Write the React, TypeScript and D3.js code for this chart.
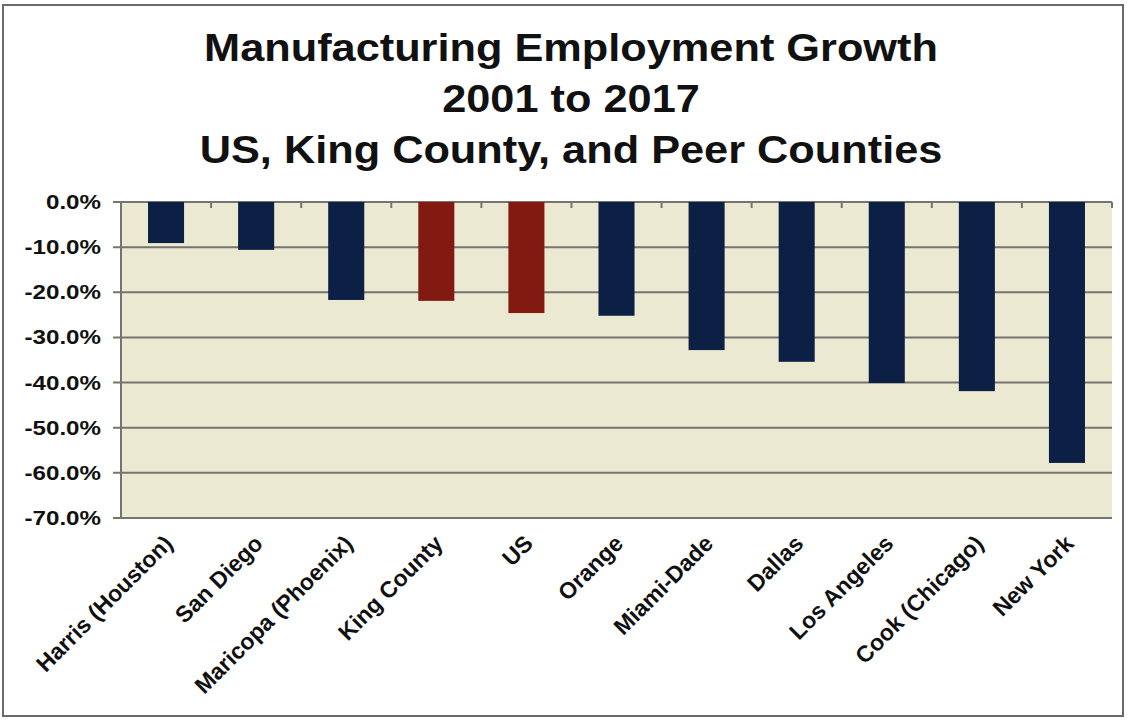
import React from "react";
import * as d3 from "d3";

const categories = ["Harris (Houston)", "San Diego", "Maricopa (Phoenix)", "King County", "US", "Orange", "Miami-Dade", "Dallas", "Los Angeles", "Cook (Chicago)", "New York"];
const values = [-9.1, -10.6, -21.7, -21.9, -24.6, -25.2, -32.8, -35.4, -40.1, -41.9, -57.8];
const highlighted = ["King County", "US"];
const yTicks = [0, -10, -20, -30, -40, -50, -60, -70];
const titleLines = ["Manufacturing Employment Growth", "2001 to 2017", "US, King County, and Peer Counties"];

const W = 1127, H = 721;
const m = { left: 121, right: 1112, top: 202, bottom: 518 };

export default function App() {
  const x = d3.scaleBand<string>().domain(categories).range([m.left, m.right]).paddingInner(0.6).paddingOuter(0.3);
  const y = d3.scaleLinear().domain([0, -70]).range([m.top, m.bottom]);
  const step = x.step();
  const font = "Arial, 'Liberation Sans', sans-serif";
  const baselines = [61, 112, 163];
  return (
    <svg width={W} height={H} style={{ position: "absolute", left: 0, top: 0 }} fontFamily={font}>
      <rect x={0} y={0} width={W} height={H} fill="#fff" />
      <rect x={3} y={5} width={1120} height={711} fill="none" stroke="#6a6a6a" strokeWidth={2} />
      {titleLines.map((t, i) => (
        <g key={i} transform={`translate(571,${baselines[i]}) scale(1.14,1)`}>
          <text x={0} y={0} textAnchor="middle" fontSize={38} fontWeight="bold" fill="#111">{t}</text>
        </g>
      ))}
      <rect x={m.left} y={m.top} width={m.right - m.left} height={m.bottom - m.top} fill="#ebe9d2" />
      {yTicks.map((t) => (
        <g key={t}>
          <line x1={m.left - 8} x2={m.right} y1={y(t)} y2={y(t)} stroke="#757570" strokeWidth={2} />
          <g transform={`translate(101,${y(t) + 7}) scale(1.15,1)`}>
            <text x={0} y={0} textAnchor="end" fontSize={21} fontWeight="bold" fill="#111">{t.toFixed(1) + "%"}</text>
          </g>
        </g>
      ))}
      <line x1={m.left} x2={m.left} y1={m.top} y2={m.bottom} stroke="#757570" strokeWidth={2} />
      {categories.map((c, i) => (
        <line key={"tk" + i} x1={m.left + step * (i + 1)} x2={m.left + step * (i + 1)} y1={m.top} y2={m.top + 6} stroke="#757570" strokeWidth={2} />
      ))}
      {categories.map((c, i) => (
        <rect key={c} x={x(c)} y={y(0)} width={x.bandwidth()} height={y(values[i]) - y(0)}
          fill={highlighted.includes(c) ? "#821a12" : "#0c1f45"} />
      ))}
      {categories.map((c) => {
        const cx = (x(c) as number) + x.bandwidth() / 2 + 8;
        return (
          <text key={"l" + c} transform={`translate(${cx},${m.bottom + 27}) rotate(-45)`} textAnchor="end" fontSize={23} fontWeight="bold" fill="#111">{c}</text>
        );
      })}
    </svg>
  );
}
